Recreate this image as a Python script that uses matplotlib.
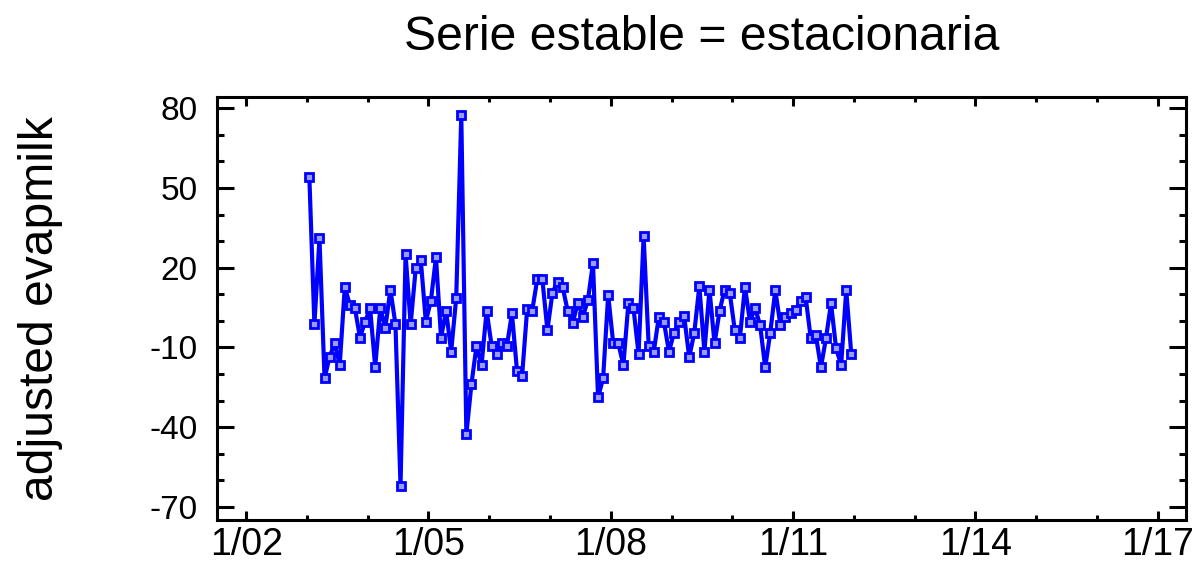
import numpy as np
import matplotlib
matplotlib.use('Agg')
import matplotlib.pyplot as plt
from matplotlib.ticker import MultipleLocator

plt.rcParams['font.family'] = ['Liberation Sans', 'DejaVu Sans']
plt.rcParams['axes.unicode_minus'] = False

# serie mensual, enero 2003 - diciembre 2011
start_year = 2003
valores = [
    54.2, -1.3, 31.0, -21.6, -13.5, -8.5, -16.6, 12.8, 6.0, 4.7,
    -6.3, -0.3, 4.7, -17.3, 4.7, -2.6, 11.8, -1.3, -62.1, 25.0,
    -1.3, 19.7, 22.9, -0.3, 7.6, 23.9, -6.3, 3.8, -11.6, 8.7,
    77.4, -42.7, -23.8, -9.5, -16.6, 3.8, -9.5, -12.5, -8.2, -9.5,
    2.8, -18.8, -20.8, 4.3, 3.8, 15.7, 15.7, -3.5, 10.6, 14.7,
    12.8, 3.8, -0.8, 6.8, 1.5, 7.8, 21.8, -28.8, -21.6, 9.7,
    -8.5, -8.5, -16.6, 6.8, 4.7, -12.5, 31.9, -9.5, -11.6, 1.5,
    -0.3, -11.6, -4.5, -0.3, 1.8, -13.7, -4.5, 13.1, -11.6, 11.8,
    -8.5, 3.8, 11.8, 10.6, -3.5, -6.6, 12.8, -0.3, 4.9, -1.6,
    -17.5, -4.5, 11.6, -1.6, 1.5, 2.8, 4.0, 7.6, 8.8, -6.6,
    -5.3, -17.5, -6.6, 6.6, -10.3, -16.6, 11.6, -12.5,
]
x_ticks = [2002, 2005, 2008, 2011, 2014, 2017]
x_labels = ['1/02', '1/05', '1/08', '1/11', '1/14', '1/17']
y_ticks = [-70, -40, -10, 20, 50, 80]

fechas = start_year + np.arange(len(valores)) / 12 + 0.04

fig = plt.figure(figsize=(12.02, 5.69), dpi=100)
ax = fig.add_axes([0.1805, 0.0861, 0.806, 0.7434])

ax.plot(fechas, valores, color='#0000ff', lw=3, marker='s', ms=6,
        mfc='#9a9aff', mec='#0000ff', mew=2)

ax.set_xlim(2001.52, 2017.46)
ax.set_ylim(-74.9, 84.2)
ax.set_xticks(x_ticks)
ax.set_xticklabels(x_labels, fontsize=27)
ax.set_yticks(y_ticks)
ax.xaxis.set_minor_locator(MultipleLocator(1))
ax.yaxis.set_minor_locator(MultipleLocator(10))

for s in ax.spines.values():
    s.set_linewidth(2.2)
ax.tick_params(axis='both', which='both', direction='in', top=True, right=True,
               width=2.2)
ax.tick_params(axis='y', which='major', length=12, labelsize=24, pad=14)
ax.tick_params(axis='y', which='minor', length=5)
ax.tick_params(axis='x', which='major', length=6.5, pad=5)
ax.tick_params(axis='x', which='minor', length=3.5)

ax.set_ylabel('adjusted evapmilk', fontsize=34.6, labelpad=62)
ax.set_title('Serie estable = estacionaria', fontsize=34.7, pad=34)

fig.savefig('out.png', dpi=100)
